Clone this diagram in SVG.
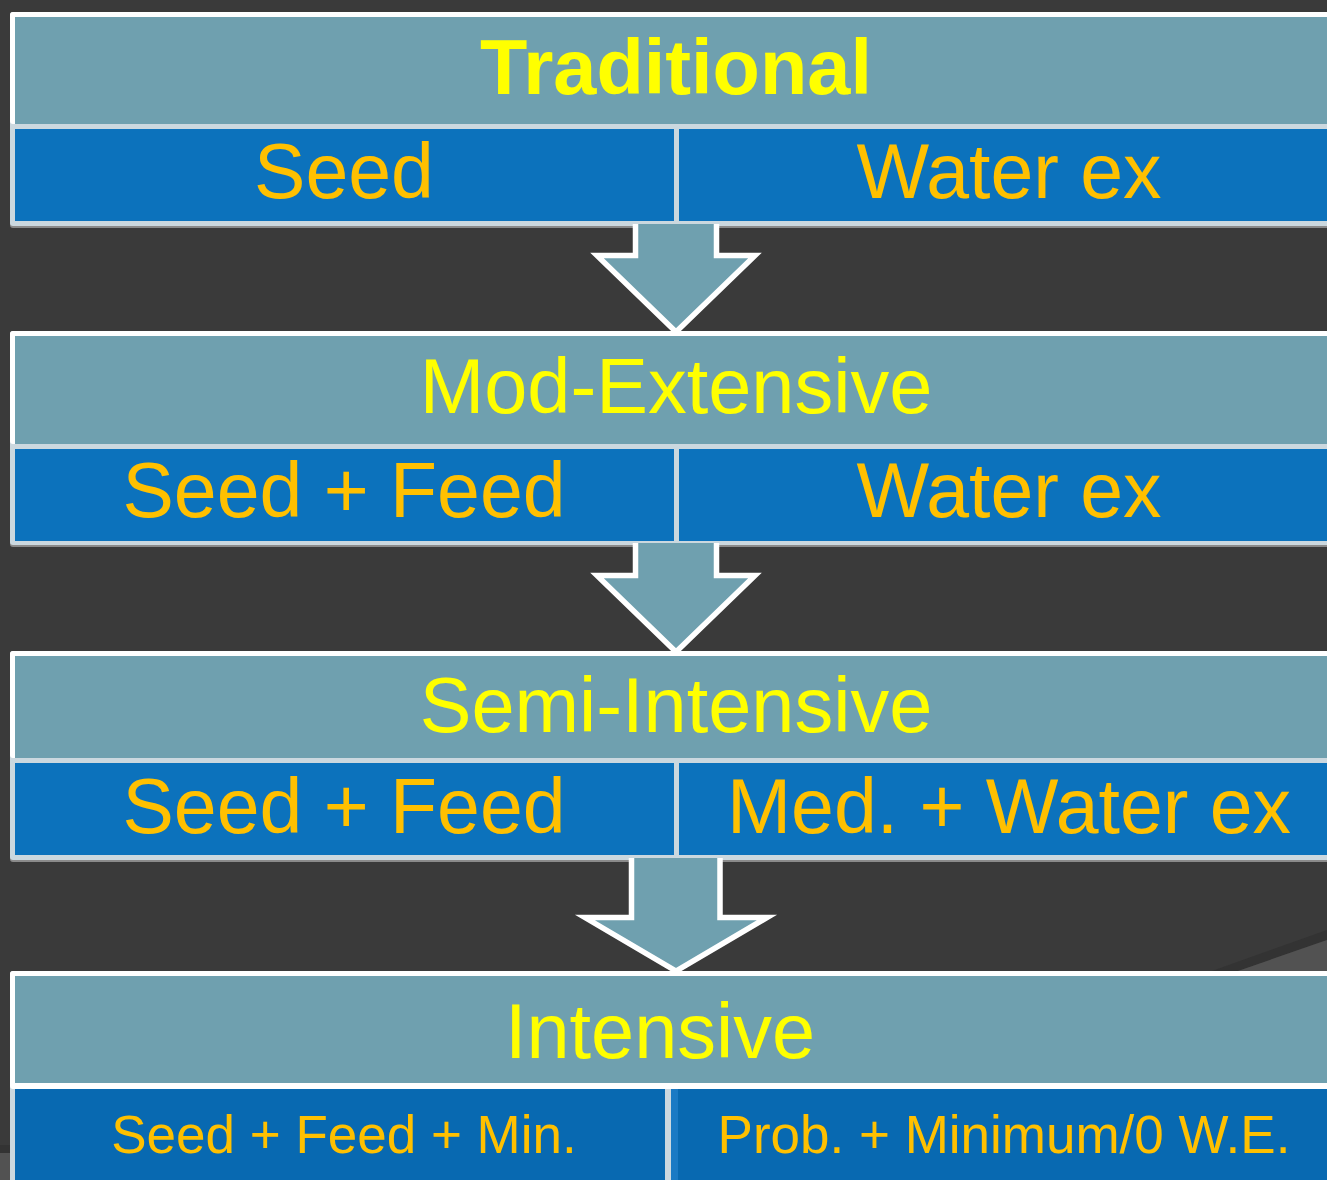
<svg xmlns="http://www.w3.org/2000/svg" width="1327" height="1180" viewBox="0 0 1327 1180">
<defs>
<style>
.bg{fill:#3a3a3a}
.frame{fill:#cbd8df}
.hborder{fill:#ffffff}
.head{fill:#6fa0af}
.cell{fill:#0c72bc}
.cell4{fill:#0869b1}
.shadow{fill:#8a8a8a}
.htxt{font-family:"Liberation Sans",Arial,sans-serif;font-size:77.5px;fill:#ffff00;text-anchor:middle}
.ctxt{font-family:"Liberation Sans",Arial,sans-serif;font-size:77px;fill:#ffc000;text-anchor:middle}
.ctxt4{font-family:"Liberation Sans",Arial,sans-serif;font-size:53px;fill:#ffc000;text-anchor:middle}
.arrow{fill:#6fa0af;stroke:#ffffff;stroke-width:5.5;stroke-linejoin:miter}
</style>
</defs>
<rect class="bg" x="0" y="0" width="1327" height="1180"/>
<polygon points="1212,971 1327,930 1327,940 1238,971" fill="#333333"/>
<polygon points="1238,971 1327,940 1327,971" fill="#525252"/>
<rect x="0" y="1145" width="10" height="8" fill="#333333"/>
<rect x="0" y="1153" width="10" height="27" fill="#525252"/>

<g id="node-traditional">
<rect class="shadow" x="10" y="14" width="1335" height="214" rx="3"/>
<rect class="frame" x="10" y="12" width="1335" height="214" rx="3"/>
<rect class="hborder" x="10" y="12" width="1335" height="112" rx="3"/>
<rect class="head" x="15" y="17" width="1330" height="107"/>
<rect class="cell" x="15" y="129" width="659" height="92"/>
<rect class="cell" x="679" y="129" width="666" height="92"/>
<text class="htxt" x="676" y="94" font-weight="bold">Traditional</text>
<text class="ctxt" x="344" y="198">Seed</text>
<text class="ctxt" x="1009" y="198">Water ex</text>
</g>

<g id="node-mod-extensive">
<rect class="shadow" x="10" y="333" width="1335" height="214" rx="3"/>
<rect class="frame" x="10" y="331" width="1335" height="214" rx="3"/>
<rect class="hborder" x="10" y="331" width="1335" height="113" rx="3"/>
<rect class="head" x="15" y="336" width="1330" height="108"/>
<rect class="cell" x="15" y="449" width="659" height="92"/>
<rect class="cell" x="679" y="449" width="666" height="92"/>
<text class="htxt" x="676" y="413">Mod-Extensive</text>
<text class="ctxt" x="344" y="517">Seed + Feed</text>
<text class="ctxt" x="1009" y="517">Water ex</text>
</g>

<g id="node-semi-intensive">
<rect class="shadow" x="10" y="653" width="1335" height="209" rx="3"/>
<rect class="frame" x="10" y="651" width="1335" height="209" rx="3"/>
<rect class="hborder" x="10" y="651" width="1335" height="107" rx="3"/>
<rect class="head" x="15" y="656" width="1330" height="102"/>
<rect class="cell" x="15" y="763" width="659" height="92"/>
<rect class="cell" x="679" y="763" width="666" height="92"/>
<text class="htxt" x="676" y="732">Semi-Intensive</text>
<text class="ctxt" x="344" y="833">Seed + Feed</text>
<text class="ctxt" x="1009" y="833">Med. + Water ex</text>
</g>

<g id="node-intensive">
<rect class="frame" x="10" y="971" width="1335" height="215" rx="3"/>
<rect class="hborder" x="10" y="971" width="1335" height="118" rx="3"/>
<rect class="head" x="15" y="976" width="1330" height="107"/>
<rect class="cell4" x="15" y="1089" width="650" height="97"/>
<rect x="671" y="1089" width="7" height="97" fill="#1a7ac4"/>
<rect class="cell4" x="678" y="1089" width="667" height="97"/>
<text class="htxt" x="660" y="1058">Intensive</text>
<text class="ctxt4" x="344" y="1153">Seed + Feed + Min.</text>
<text class="ctxt4" x="1004" y="1153">Prob. + Minimum/0 W.E.</text>
</g>

<g id="connectors">
<path class="arrow" d="M635.5,224 V255.5 H597 L676,332 L755,255.5 H716.5 V224"/>
<path class="arrow" d="M635.5,543 V575.5 H597 L676,652 L755,575.5 H716.5 V543"/>
<path class="arrow" d="M631.5,858 V917.5 H585 L676,971 L767,917.5 H720 V858"/>
</g>
</svg>
